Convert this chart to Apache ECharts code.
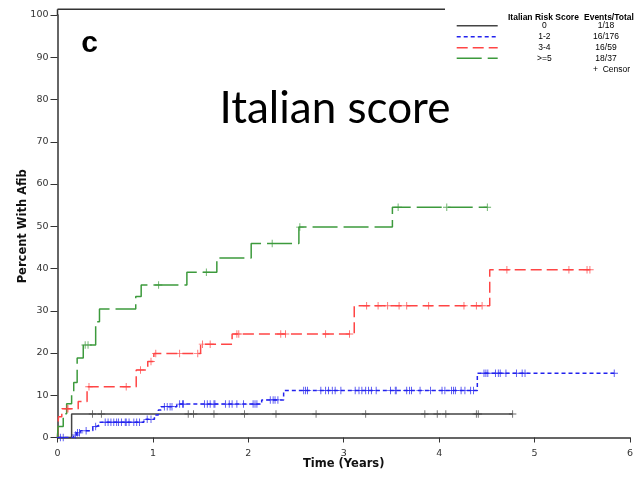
<!DOCTYPE html>
<html><head><meta charset="utf-8">
<script src="https://cdn.jsdelivr.net/npm/echarts@6/dist/echarts.min.js"></script>
<style>html,body{margin:0;padding:0;background:#fff}#c{width:636px;height:478px}</style>
</head><body><div id="c"></div>
<script>
// ---- data ----
var xTicks = [0, 1, 2, 3, 4, 5, 6];
var yTicks = [0, 10, 20, 30, 40, 50, 60, 70, 80, 90, 100];

var blackT = [0, 0.148, 4.77];
var blackV = [0, 5.56, 5.56];
var blackCens = [0.367, 0.46, 1.37, 1.425, 1.64, 1.96, 2.29, 2.71, 3.23, 3.85, 3.98, 4.07, 4.39, 4.41, 4.77];

var blueT = [0, 0.17, 0.20, 0.24, 0.37, 0.41, 0.44, 0.905, 1.016, 1.057, 1.085, 1.25, 2.14, 2.37, 4.40, 5.835];
var blueV = [0, 0.6, 1.1, 1.6, 2.6, 3.0, 3.6, 4.3, 5.3, 6.5, 7.3, 7.9, 8.9, 11.1, 15.2, 15.2];
var blueCens = [0.03, 0.06, 0.19, 0.21, 0.23, 0.30, 0.40, 0.50, 0.53, 0.56, 0.59, 0.62, 0.64, 0.67, 0.71, 0.72, 0.75, 0.80, 0.83, 0.86,
  0.94, 0.98, 1.12, 1.15, 1.18, 1.20, 1.28, 1.31, 1.32, 1.54, 1.57, 1.60, 1.64, 1.65, 1.76, 1.80, 1.83, 1.88, 1.95,
  2.05, 2.07, 2.09, 2.23, 2.26, 2.28, 2.31, 2.58, 2.60, 2.62, 2.76, 2.81, 2.84, 2.88, 2.91, 2.97, 3.12, 3.16, 3.19,
  3.23, 3.26, 3.29, 3.34, 3.49, 3.54, 3.55, 3.66, 3.69, 3.71, 3.80, 3.91, 4.03, 4.06, 4.13, 4.15, 4.17, 4.23, 4.27,
  4.33, 4.36, 4.47, 4.49, 4.51, 4.59, 4.62, 4.64, 4.70, 4.81, 4.87, 4.90, 5.835];

var redT = [0, 0.01, 0.045, 0.217, 0.31, 0.825, 0.946, 1.01, 1.50, 1.83, 3.11, 4.53, 5.58];
var redV = [0, 4.9, 6.8, 8.5, 12.0, 16.0, 18.0, 19.9, 22.1, 24.5, 31.2, 39.7, 39.7];
var redCens = [0.10, 0.11, 0.33, 0.72, 0.87, 0.98, 1.03, 1.28, 1.47, 1.52, 1.60, 1.88, 1.90, 2.34, 2.39, 2.81, 3.06,
  3.24, 3.36, 3.46, 3.58, 3.66, 3.89, 4.26, 4.39, 4.45, 4.71, 5.36, 5.55, 5.58];

var greenT = [0, 0.005, 0.06, 0.096, 0.148, 0.17, 0.206, 0.27, 0.40, 0.44, 0.82, 0.877, 1.356, 1.67, 2.03, 2.53, 3.51, 4.505];
var greenV = [0, 2.6, 5.6, 8.0, 10.9, 13.0, 18.8, 21.9, 27.4, 30.4, 33.4, 36.1, 39.1, 42.5, 45.9, 49.8, 54.5, 54.5];
var greenCens = [0.29, 0.32, 1.06, 1.56, 2.25, 2.54, 3.57, 4.08, 4.505];

var groupNames = ['0', '1-2', '3-4', '>=5'];
var eventsTotal = ['1/18', '16/176', '16/59', '18/37'];

// ---- build ----
function pairs(T, V) { return T.map(function (t, i) { return [t, V[i]]; }); }
function stepVal(T, V, t) { var v = V[0]; for (var i = 0; i < T.length; i++) { if (T[i] <= t) v = V[i]; } return v; }
function cens(T, V, C) { return C.map(function (t) { return [t, stepVal(T, V, t)]; }); }

var plus = 'path://M-0.12,-1H0.12V-0.12H1V0.12H0.12V1H-0.12V0.12H-1V-0.12H-0.12Z';
var colors = ['#444444', '#2222ee', '#ff4545', '#3c9a3c'];
var dashes = ['solid', [4, 3], [11, 5], [25, 6]];
var groups = [[blackT, blackV, blackCens], [blueT, blueV, blueCens], [redT, redV, redCens], [greenT, greenV, greenCens]];

var series = [];
groups.forEach(function (g, i) {
  series.push({ type: 'line', step: 'end', data: pairs(g[0], g[1]), symbol: 'none', silent: true,
    lineStyle: { color: colors[i], width: 1.5, type: dashes[i] }, z: 2 });
  series.push({ type: 'scatter', data: cens(g[0], g[1], g[2]), symbol: plus, symbolSize: 7.5, silent: true,
    itemStyle: { color: colors[i] }, z: 3 });
});

var L = 57.5, T0 = 15, B = 437.5;
var graphic = [
  { type: 'line', shape: { x1: L, y1: 9.3, x2: L, y2: T0 }, style: { stroke: '#333', lineWidth: 1.5 } },
  { type: 'line', shape: { x1: L, y1: 9.3, x2: 445, y2: 9.3 }, style: { stroke: '#333', lineWidth: 1.5 } },
  { type: 'text', x: 89.7, y: 43.3, style: { text: 'c', font: 'bold 30px "Liberation Sans", Arial', fill: '#000', align: 'center', verticalAlign: 'middle' } },
  { type: 'text', x: 335, y: 109, style: { text: 'Italian score', font: '44px Lato, "Open Sans", sans-serif', fill: '#000', align: 'center', verticalAlign: 'middle' } },
  { type: 'text', x: 508, y: 17.3, style: { text: 'Italian Risk Score', font: 'bold 8.5px "Liberation Sans", Arial', fill: '#000', verticalAlign: 'middle' } },
  { type: 'text', x: 584, y: 17.3, style: { text: 'Events/Total', font: 'bold 8.5px "Liberation Sans", Arial', fill: '#000', verticalAlign: 'middle' } },
  { type: 'text', x: 593, y: 69.3, style: { text: '+  Censor', font: '8.5px "Liberation Sans", Arial', fill: '#000', verticalAlign: 'middle' } }
];
var rowY = [25.7, 36.7, 47.7, 58.3];
groupNames.forEach(function (n, i) {
  graphic.push({ type: 'line', shape: { x1: 456.7, y1: rowY[i], x2: 497.7, y2: rowY[i] },
    style: { stroke: colors[i], lineWidth: 1.5, lineDash: dashes[i] === 'solid' ? null : dashes[i] } });
  graphic.push({ type: 'text', x: 544.3, y: rowY[i], style: { text: n, font: '8.5px "Liberation Sans", Arial', fill: '#000', align: 'center', verticalAlign: 'middle' } });
  graphic.push({ type: 'text', x: 606, y: rowY[i], style: { text: eventsTotal[i], font: '8.5px "Liberation Sans", Arial', fill: '#000', align: 'center', verticalAlign: 'middle' } });
});

var chart = echarts.init(document.getElementById('c'));
chart.setOption({
  animation: false,
  grid: { left: L, right: 2.5, top: T0, bottom: 478 - B, containLabel: false },
  xAxis: {
    type: 'value', min: xTicks[0], max: xTicks[xTicks.length - 1], interval: 1,
    name: 'Time (Years)', nameLocation: 'middle', nameGap: 21, nameMoveOverlap: false,
    nameTextStyle: { fontFamily: 'DejaVu Sans', fontWeight: 'bold', fontSize: 11.5, color: '#111' },
    axisLine: { show: true, lineStyle: { color: '#333', width: 1.5 } },
    axisTick: { show: true, inside: false, length: 5, lineStyle: { color: '#333', width: 1 } },
    axisLabel: { fontFamily: 'DejaVu Sans', fontSize: 9.5, color: '#333', margin: 11 },
    splitLine: { show: false }
  },
  yAxis: {
    type: 'value', min: yTicks[0], max: yTicks[yTicks.length - 1], interval: 10,
    name: 'Percent With Afib', nameLocation: 'middle', nameGap: 28, nameMoveOverlap: false,
    nameTextStyle: { fontFamily: 'DejaVu Sans', fontWeight: 'bold', fontSize: 11.5, color: '#111' },
    axisLine: { show: true, lineStyle: { color: '#333', width: 1.5 } },
    axisTick: { show: true, inside: false, length: 7, lineStyle: { color: '#333', width: 1 } },
    axisLabel: { fontFamily: 'DejaVu Sans', fontSize: 9.5, color: '#333', margin: 9 },
    splitLine: { show: false }
  },
  series: series,
  graphic: graphic
});
</script></body></html>
